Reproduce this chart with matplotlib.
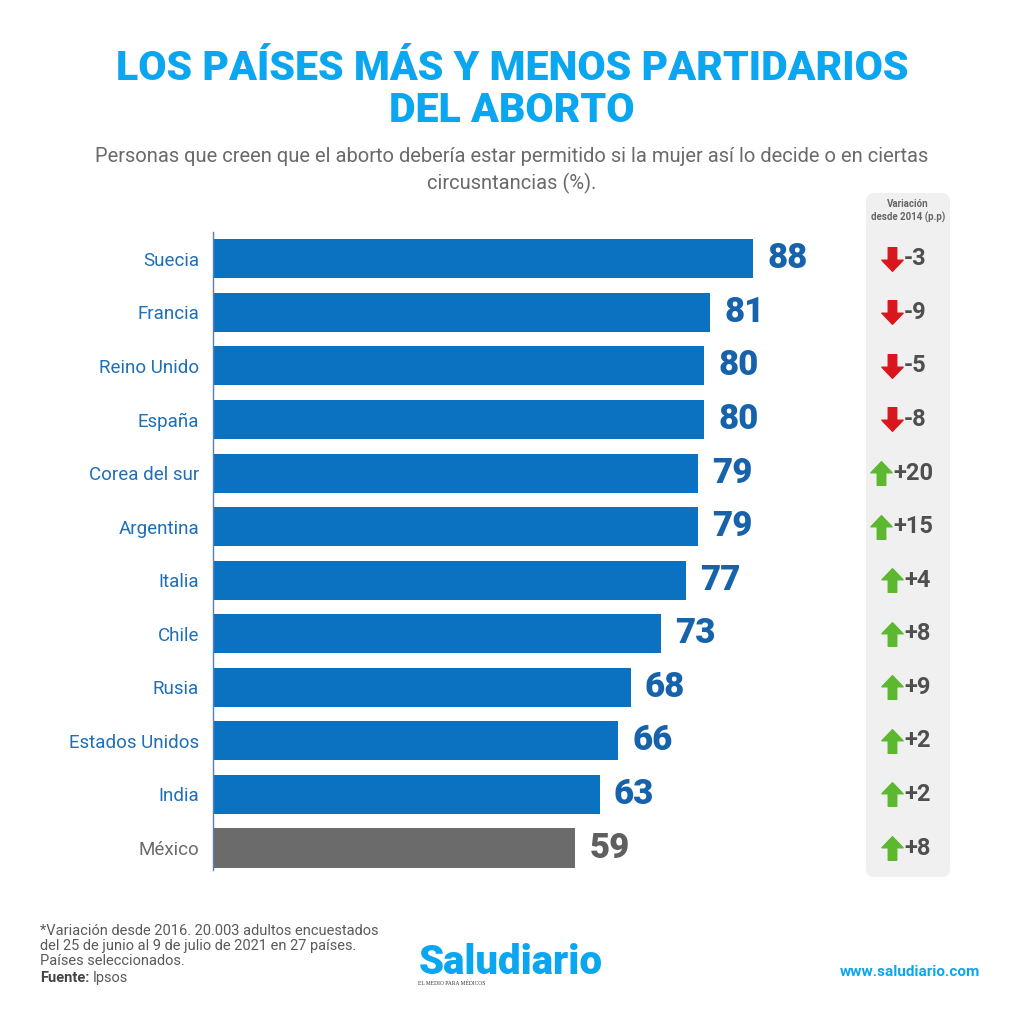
import numpy as np
import matplotlib.pyplot as plt
import matplotlib.transforms as mtransforms
from matplotlib.path import Path
from matplotlib.patches import FancyBboxPatch

# data
paises = ['Suecia', 'Francia', 'Reino Unido', 'España', 'Corea del sur', 'Argentina',
          'Italia', 'Chile', 'Rusia', 'Estados Unidos', 'India', 'México']
valores = [88, 81, 80, 80, 79, 79, 77, 73, 68, 66, 63, 59]
variacion = [-3, -9, -5, -8, 20, 15, 4, 8, 9, 2, 2, 8]

BLUE = '#0b72c1'
LABEL_BLUE = '#1d6fb8'
VAL_BLUE = '#1663ab'
GRAY = '#6b6b6b'
CYAN = '#0aa6ef'
TXT = '#5a5a5a'

plt.rcParams['font.family'] = ['Roboto', 'DejaVu Sans']

W = H = 1024
fig = plt.figure(figsize=(10.24, 10.24), dpi=100)
fig.patch.set_facecolor('white')


def fx(px):
    return px / W


def fy(py):
    return 1 - py / H


# main bar axes
ax = fig.add_axes([fx(213), fy(870), fx(614), fy(232) - fy(870)])
ax.set_zorder(2)
ax.patch.set_visible(False)
y = np.arange(len(paises))
colors = [BLUE] * (len(paises) - 1) + [GRAY]
ax.barh(y, valores, height=0.73, color=colors)
ax.set_xlim(0, 100)
ax.set_ylim(11.41, -0.5)
for s in ['top', 'right', 'bottom']:
    ax.spines[s].set_visible(False)
ax.spines['left'].set_color('#5b7fb4')
ax.spines['left'].set_linewidth(1.0)
ax.set_xticks([])
ax.set_yticks(y)
ax.set_yticklabels(paises, fontsize=13.5)
ax.tick_params(axis='y', length=0, pad=10)
for lbl, c in zip(ax.get_yticklabels(), colors):
    lbl.set_color(LABEL_BLUE if c == BLUE else GRAY)

for yi, v, c in zip(y, valores, colors):
    ax.annotate(str(v), (v, yi), xytext=(10, 0), textcoords='offset points',
                va='center', ha='left', fontsize=25, fontweight='black',
                color=VAL_BLUE if c == BLUE else '#5f5f5f')

# variation panel
panel = FancyBboxPatch((fx(866), fy(877)), fx(84), fy(193) - fy(877),
                       boxstyle='round,pad=0,rounding_size=0.008',
                       transform=fig.transFigure, facecolor='#f0f0f0',
                       edgecolor='none', zorder=0)
fig.patches.append(panel)
fig.text(fx(908), fy(211), 'Variación\ndesde 2014 (p.p)', ha='center', va='center',
         fontsize=7, fontweight='bold', color='#666666', linespacing=1.4)

up = Path([(-0.18, -0.5), (0.18, -0.5), (0.18, 0.03), (0.45, 0.03), (0.0, 0.5),
           (-0.45, 0.03), (-0.18, 0.03), (-0.18, -0.5)],
          [Path.MOVETO] + [Path.LINETO] * 6 + [Path.CLOSEPOLY])
down = Path(up.vertices * np.array([1, -1]), up.codes)

tr = mtransforms.blended_transform_factory(fig.transFigure, ax.transData)
for yi, d in zip(y, variacion):
    wide = abs(d) >= 10
    ax_x = 881 if wide else 892
    tx_x = 893 if wide else 904
    mk = up if d > 0 else down
    col = '#5cb82e' if d > 0 else '#d9161d'
    ax.plot([fx(ax_x)], [yi], marker=mk, markersize=17, color=col,
            transform=tr, clip_on=False, linestyle='none')
    ax.text(fx(tx_x), yi, f'{d:+d}', transform=tr, ha='left', va='center',
            fontsize=17, fontweight='bold', color='#4f4f4f', clip_on=False)

# titles
fig.text(0.5, fy(68), 'LOS PAÍSES MÁS Y MENOS PARTIDARIOS', ha='center', va='center',
         fontsize=29.5, fontweight='black', color=CYAN)
fig.text(0.5, fy(110), 'DEL ABORTO', ha='center', va='center',
         fontsize=29.5, fontweight='black', color=CYAN)
fig.text(0.5, fy(156), 'Personas que creen que el aborto debería estar permitido si la mujer así lo decide o en ciertas',
         ha='center', va='center', fontsize=14.5, color='#6a6a6a')
fig.text(0.5, fy(183), 'circusntancias (%).', ha='center', va='center',
         fontsize=14.5, color='#6a6a6a')

# footer
fig.text(fx(40), fy(946), '*Variación desde 2016. 20.003 adultos encuestados\n'
         'del 25 de junio al 9 de julio de 2021 en 27 países.\nPaíses seleccionados.',
         ha='left', va='center', fontsize=10.5, color=TXT, linespacing=1.05)
fig.text(fx(40), fy(978), 'Fuente:', ha='left', va='center', fontsize=10.5,
         fontweight='bold', color='#444444')
fig.text(fx(93), fy(978), 'Ipsos', ha='left', va='center', fontsize=10.5, color=TXT)
fig.text(fx(511), fy(962), 'Saludiario', ha='center', va='center', fontsize=29,
         fontweight='black', color=CYAN)
fig.text(fx(418), fy(983), 'EL MEDIO PARA MÉDICOS', ha='left', va='center',
         fontsize=4, color='#333333', fontfamily='Liberation Serif')
fig.text(fx(980), fy(972), 'www.saludiario.com', ha='right', va='center',
         fontsize=11, fontweight='bold', color=CYAN)

fig.savefig('out.png', dpi=100, facecolor='white')
